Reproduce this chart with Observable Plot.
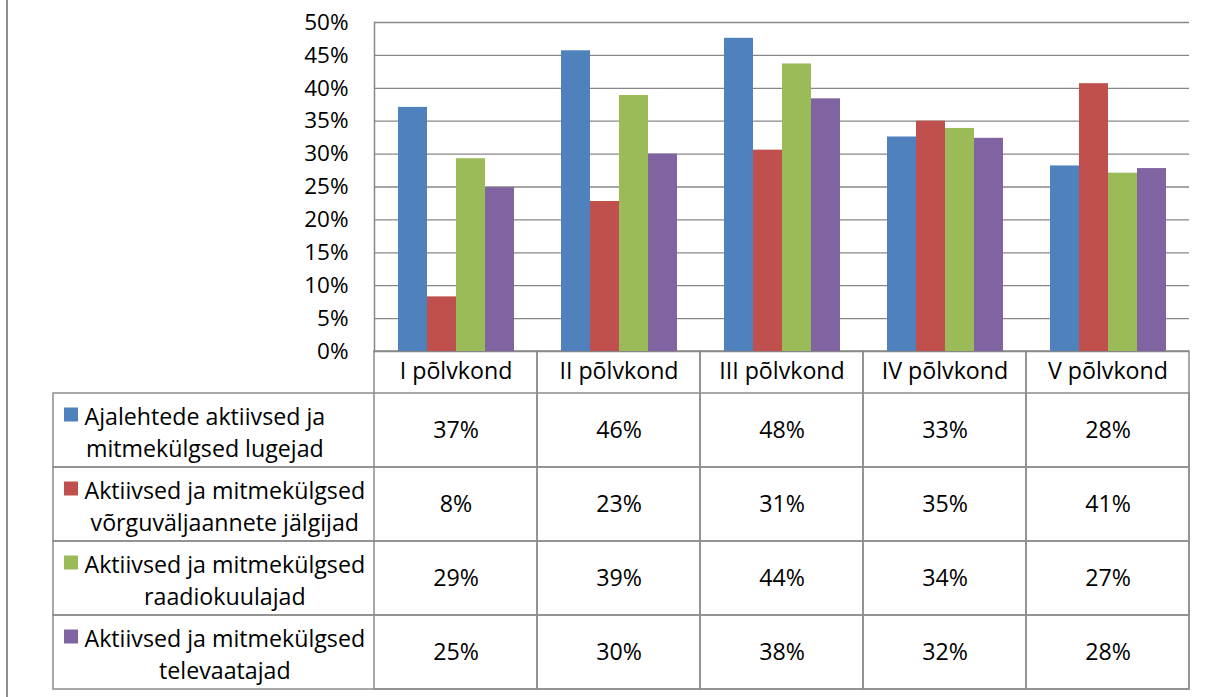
<!DOCTYPE html>
<html>
<head>
<meta charset="utf-8">
<script src="https://cdn.jsdelivr.net/npm/d3@7"></script>
<script src="https://cdn.jsdelivr.net/npm/@observablehq/plot@0.6"></script>
<style>
  html, body { margin: 0; padding: 0; background: #fff; }
  #wrap { position: relative; width: 1214px; height: 697px; overflow: hidden; }
  #edge { position: absolute; left: 6px; top: 0; width: 2px; height: 697px; background: #8f8f8f; }
  #chart { position: absolute; left: 0; top: 0; }
  #table { position: absolute; left: 0; top: 350px; }
</style>
</head>
<body>
<div id="wrap">
  <div id="edge"></div>
  <div id="table"></div>
  <div id="chart"></div>
</div>
<script>
// Generations (columns of the chart and the data table)
const categories = ["I põlvkond", "II põlvkond", "III põlvkond", "IV põlvkond", "V põlvkond"];

// Audience groups; "\n" marks the line break in the table's legend column
const series = [
  "Ajalehtede aktiivsed ja\nmitmekülgsed lugejad",
  "Aktiivsed ja mitmekülgsed\nvõrguväljaannete jälgijad",
  "Aktiivsed ja mitmekülgsed\nraadiokuulajad",
  "Aktiivsed ja mitmekülgsed\ntelevaatajad"
];
const colors = ["#4F81BD", "#C0504D", "#9BBB59", "#8064A2"];

// Shares per generation (I … V)
const newspaperReaders = [0.371, 0.457, 0.476, 0.326, 0.282];
const onlineFollowers  = [0.083, 0.228, 0.306, 0.350, 0.407];
const radioListeners   = [0.293, 0.389, 0.437, 0.339, 0.271];
const tvViewers        = [0.249, 0.300, 0.384, 0.324, 0.278];

const yTicks = [0, 0.05, 0.10, 0.15, 0.20, 0.25, 0.30, 0.35, 0.40, 0.45, 0.50];

const seriesValues = [newspaperReaders, onlineFollowers, radioListeners, tvViewers];
const rows = series.flatMap((s, i) =>
  categories.map((c, j) => ({series: s, category: c, value: seriesValues[i][j]}))
);

const FONT = "'Open Sans', Lato, sans-serif";
const FS = 23.2;
const GRID = "#878787";
const BORDER = "#8c8c8c";
const pct = d3.format(".0%");
const style = {fontFamily: FONT, fontSize: FS + "px", color: "#000", background: "transparent"};

// Clustered column chart
const chart = Plot.plot({
  width: 1214,
  height: 372,
  marginLeft: 374,
  marginRight: 25,
  marginTop: 22,
  marginBottom: 21,
  style,
  fx: {domain: categories, padding: 0, axis: null},
  x: {domain: series, paddingInner: 0, paddingOuter: 0.76, axis: null},
  y: {domain: [0, 0.5]},
  color: {domain: series, range: colors},
  marks: [
    Plot.gridY({ticks: yTicks, stroke: GRID, strokeOpacity: 1, strokeWidth: 1.3}),
    Plot.barY(rows, {fx: "category", x: "series", y: "value", fill: "series"}),
    Plot.axisY({ticks: yTicks, tickSize: 0, tickPadding: 26, tickFormat: pct, fontSize: 22.5, fill: "#000", label: null}),
    Plot.frame({anchor: "left", facetAnchor: "left", stroke: GRID, strokeWidth: 1.5})
  ]
});
document.getElementById("chart").appendChild(chart);

// Width of the widest line of a legend label, for centring the text block
const ctx = document.createElement("canvas").getContext("2d");
ctx.font = `${FS}px 'Open Sans'`;
const blockWidth = (s) => d3.max(s.split("\n"), (line) => ctx.measureText(line).width);

// Data table under the chart: category header, legend column, values
const table = Plot.plot({
  width: 1214,
  height: 347,
  marginLeft: 53,
  marginRight: 25,
  marginTop: 1,
  marginBottom: 8,
  style,
  x: {type: "band", domain: categories, range: [374, 1189], padding: 0, axis: null},
  y: {type: "band", domain: series, range: [42, 339], padding: 0, axis: null},
  color: {domain: series, range: colors},
  marks: [
    Plot.cell(series, {y: (d) => d, fill: "none", stroke: BORDER, strokeWidth: 1.5}),
    Plot.cell(categories, {x: (d) => d, fill: "none", stroke: BORDER, strokeWidth: 1.5}),
    Plot.text(categories, {x: (d) => d, text: (d) => d, frameAnchor: "top", lineAnchor: "middle", dy: 20.5, fill: "#000"}),
    Plot.text(rows, {x: "category", y: "series", text: (d) => pct(d.value), fill: "#000"}),
    Plot.dot(series, {y: (d) => d, frameAnchor: "left", dx: 17.5, dy: -16, symbol: "square", r: 7.9, fill: (d) => d, stroke: "none"}),
    ...series.map((s) =>
      Plot.text([s], {
        y: (d) => d,
        text: (d) => d,
        frameAnchor: "left",
        textAnchor: "middle",
        lineHeight: 1.39,
        dx: 31 + blockWidth(s) / 2,
        fill: "#000"
      })
    )
  ]
});
document.getElementById("table").appendChild(table);
</script>
</body>
</html>
